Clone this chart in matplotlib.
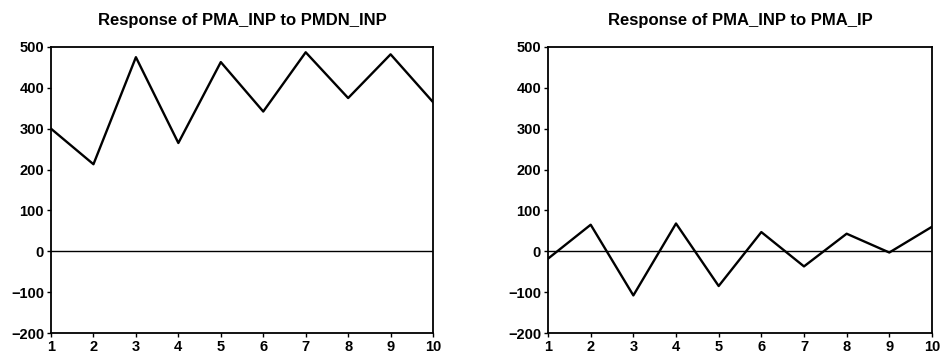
import matplotlib
matplotlib.use("Agg")
import matplotlib.pyplot as plt

periods = list(range(1, 11))
resp_pmdn = [300, 213, 475, 265, 463, 342, 487, 375, 482, 365]
resp_pma_ip = [-18, 65, -108, 68, -85, 47, -37, 43, -3, 60]
titles = ["Response of PMA_INP to PMDN_INP", "Response of PMA_INP to PMA_IP"]
yticks = [-200, -100, 0, 100, 200, 300, 400, 500]

plt.rcParams['font.family'] = ['Liberation Sans', 'DejaVu Sans']

fig = plt.figure(figsize=(9.41, 3.58), dpi=100)
axes_pos = [[0.0542, 0.0698, 0.406, 0.799], [0.5824, 0.0698, 0.408, 0.799]]

for pos, data, title in zip(axes_pos, [resp_pmdn, resp_pma_ip], titles):
    ax = fig.add_axes(pos)
    ax.plot(periods, data, color='black', lw=1.7)
    ax.axhline(0, color='black', lw=1.0)
    ax.set_xlim(1, 10)
    ax.set_ylim(-200, 500)
    ax.set_xticks(periods)
    ax.set_yticks(yticks)
    ax.tick_params(labelsize=10.5, length=3, width=1, pad=2)
    for lbl in ax.get_xticklabels() + ax.get_yticklabels():
        lbl.set_fontweight('bold')
    for s in ax.spines.values():
        s.set_linewidth(1.3)
    ax.set_title(title, fontsize=12, fontweight='bold', pad=16)

fig.savefig("out.png", dpi=100)
